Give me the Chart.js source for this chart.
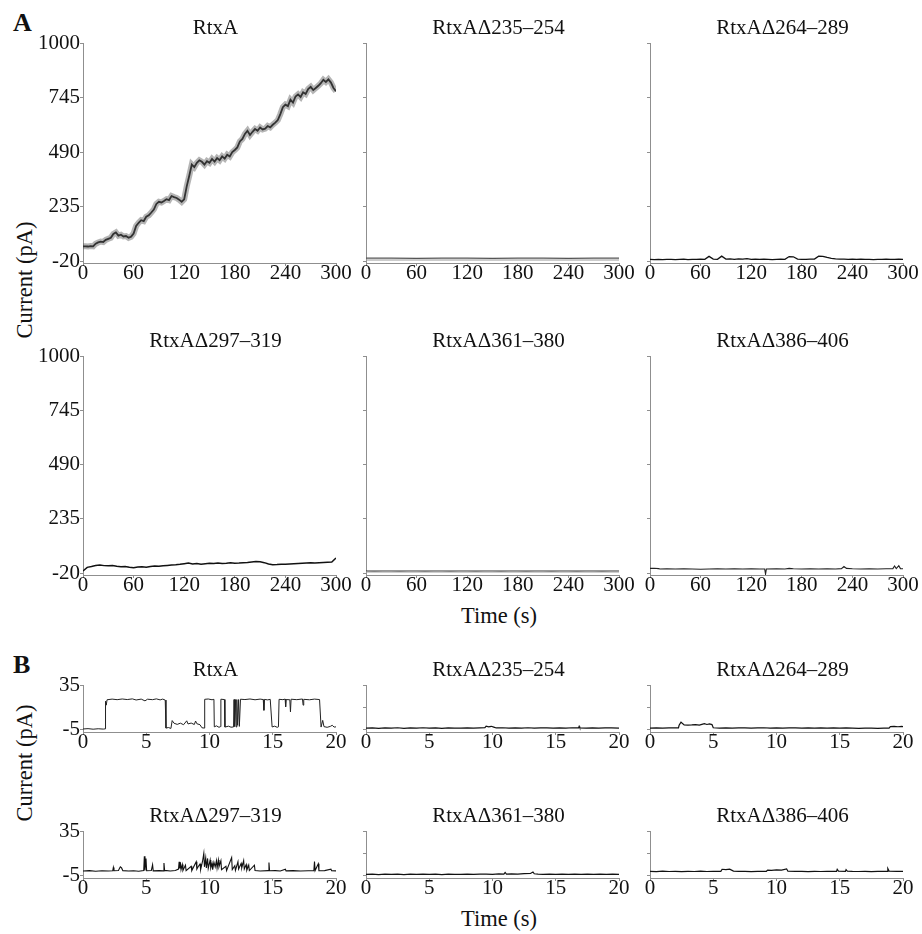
<!DOCTYPE html>
<html>
<head>
<meta charset="utf-8">
<title>RtxA deletion mutants: current traces</title>
<script src="https://cdn.jsdelivr.net/npm/chart.js@4.4.1/dist/chart.umd.min.js"></script>
<style>
  html, body { margin: 0; background: #fff; }
  #figure {
    position: relative; width: 922px; height: 934px; overflow: hidden;
    font-family: 'Liberation Serif', 'Times New Roman', serif; color: #111;
  }
  .panel { position: absolute; }
  .tag { position: absolute; font-size: 26px; font-weight: bold; line-height: 1; }
  .axis-title { position: absolute; font-size: 22.5px; line-height: 1; white-space: nowrap; transform: translateX(-50%); }
  .axis-title.vertical { transform: translate(-50%, -50%) rotate(-90deg); }
</style>
</head>
<body>
<div id="figure">
  <div class="tag" style="left:13px;top:10px">A</div>
  <div class="tag" style="left:13px;top:652px">B</div>
  <div class="axis-title vertical" style="left:25px;top:280px">Current (pA)</div>
  <div class="axis-title vertical" style="left:25px;top:763px">Current (pA)</div>
  <div class="axis-title" style="left:499px;top:605px">Time (s)</div>
  <div class="axis-title" style="left:499px;top:908px">Time (s)</div>
</div>
<script>
const SERIF = "'Liberation Serif', 'Times New Roman', serif";
const AXIS_GREY = '#8f8f8f';
const INK = '#111';

// axis ticks
const longTimeTicks = [0, 60, 120, 180, 240, 300];
const longCurrentTicks = [-20, 235, 490, 745, 1000];
const shortTimeTicks = [0, 5, 10, 15, 20];
const shortCurrentTicks = [-5, 15, 35];

const titles = ['RtxA', 'RtxA\u0394235\u2013254', 'RtxA\u0394264\u2013289',
                'RtxA\u0394297\u2013319', 'RtxA\u0394361\u2013380', 'RtxA\u0394386\u2013406'];

// --- A: 300 s recordings (pA) ---
// RtxA, one sample every 3 s
const rtxA300 = [
  50, 50, 49, 51, 50, 62, 68, 72, 70, 80,
  85, 90, 108, 115, 100, 104, 96, 98, 90, 95,
  110, 145, 160, 172, 168, 188, 195, 208, 222, 248,
  258, 255, 262, 270, 266, 285, 280, 276, 268, 258,
  270, 330, 380, 432, 420, 440, 452, 445, 432, 448,
  440, 458, 446, 462, 452, 470, 460, 478, 470, 490,
  500, 512, 540, 552, 575, 590, 570, 585, 598, 590,
  605, 596, 600, 612, 606, 618, 628, 640, 668, 700,
  712, 705, 735, 722, 750, 760, 748, 770, 762, 785,
  795, 780, 790, 800, 812, 828, 818, 830, 815, 790,
  775
];
// every 30 s
const rtxA235 = [-5, -5, -6, -5, -5, -6, -5, -5, -6, -5, -5];
const rtxA235Low = [-14, -14, -14, -14, -14, -14, -14, -14, -14, -14, -14];
// every 5 s
const rtxA264 = [
  -11, -12, -11, -12, -11, -11, -12, -11, -10, -12,
  -11, -11, -10, -11, 3, -10, -11, 4, -10, -9,
  -11, -9, -10, -8, -11, -10, -11, -10, -11, -12,
  -11, -10, -11, 2, 1, -10, -11, -11, -10, -10,
  4, 3, -2, -6, -9, -10, -10, -11, -10, -11,
  -10, -11, -11, -12, -11, -11, -10, -11, -11, -10,
  -11
];
// every 5 s
const rtxA297 = [
  -9, 8, 12, 17, 19, 16, 15, 17, 13, 11,
  12, 8, 6, 9, 11, 8, 12, 14, 13, 15,
  17, 19, 20, 22, 25, 28, 24, 26, 23, 25,
  27, 26, 28, 26, 27, 29, 27, 28, 30, 31,
  33, 35, 34, 30, 24, 20, 21, 23, 22, 24,
  25, 26, 27, 28, 29, 28, 30, 31, 32, 33,
  52
];
// every 10 s / 30 s
const rtxA361 = [-9, -10, -9, -9, -10, -9, -9, -10, -9, -9, -10, -9, -9, -10, -9, -9,
                 -10, -9, -9, -10, -9, -9, -10, -9, -9, -10, -9, -9, -10, -9, -9];
const rtxA361Low = [-14, -14, -14, -14, -14, -14, -14, -14, -14, -14, -14];
// [time s, current pA]
const rtxA386 = [
  [0, 3], [5, 4], [10, 2], [12, 0], [20, 1], [30, 0], [40, 1], [50, 0], [60, -1], [70, 0],
  [80, 1], [90, 0], [100, 1], [110, 0], [120, 1], [130, 0], [136, 0], [137, -24], [138, 0],
  [150, 1], [160, 0], [165, 3], [170, 1], [180, 0], [190, 1], [200, 0], [210, 1], [220, 0],
  [227, 2], [230, 12], [233, 3], [240, 1], [250, 0], [260, 1], [270, 0], [280, 1], [288, 2],
  [290, 14], [292, 2], [295, 16], [297, 2], [300, 1]
];

// --- B: 20 s recordings, [time s, current pA] ---
const rtxA20 = [
  [0, -4.3], [0.4, -4.0], [0.8, -4.5], [1.2, -4.1], [1.6, -4.4], [1.75, -4.2], [1.78, 20.5],
  [1.84, 17], [1.9, 21.8], [2.3, 22.4], [2.7, 21.9], [3.1, 22.5], [3.5, 22.0], [3.9, 22.6],
  [4.2, 21.6], [4.6, 22.4], [4.9, 20.8], [5.1, 22.3], [5.5, 21.9], [5.8, 22.6], [6.1, 21.7],
  [6.3, 22.4], [6.5, 21.5], [6.56, -3.5], [6.75, -3.0], [6.95, -3.8], [7.05, 3.2], [7.2, 0.8],
  [7.45, -0.2], [7.7, 0.9], [7.95, -0.5], [8.2, 3.0], [8.3, 0.2], [8.55, 1.0], [8.8, -0.3],
  [8.9, 2.8], [9.0, 0.4], [9.25, -0.5], [9.4, -3.2], [9.58, -3.5], [9.62, 22.2], [9.9, 22.5],
  [10.2, 21.8], [10.35, 22.2], [10.38, -2.4], [10.55, -1.5], [10.75, -2.8], [10.86, -2.2],
  [10.9, 22.3], [11.18, 22.0], [11.22, -2.6], [11.5, -1.8], [11.7, -2.7], [11.9, -2.5],
  [11.94, 22], [11.98, -2], [12.05, 22], [12.1, -2.5], [12.16, 22], [12.22, -1], [12.3, 22],
  [12.36, -2], [12.45, 22.3], [12.8, 22.0], [13.2, 22.5], [13.6, 21.8], [14.0, 22.4],
  [14.25, 22], [14.3, 12.4], [14.35, 22.1], [14.6, 21.7], [14.8, 22.2], [14.95, -2.5],
  [15.15, -1.8], [15.35, -2.8], [15.45, -2.4], [15.5, 22.2], [15.8, 21.9], [15.98, 22.4],
  [16.02, 15.5], [16.06, 22.0], [16.35, 21.8], [16.4, 11.0], [16.45, 22.3], [16.9, 21.9],
  [17.35, 22.5], [17.4, 17.0], [17.45, 22.2], [17.9, 21.8], [18.3, 22.4], [18.7, 22.0],
  [18.82, -2.6], [18.95, 3.4], [19.05, -2.2], [19.3, -2.8], [19.55, -2.0], [19.7, -1.0],
  [19.85, -2.6], [20, -2.4]
];
const rtxA235s = [
  [0, -3.6], [0.5, -3.3], [1, -3.7], [1.5, -3.4], [2, -3.6], [2.5, -3.2], [3, -3.7], [3.5, -3.4],
  [4, -3.5], [4.5, -3.2], [5, -3.6], [5.5, -3.4], [6, -3.7], [6.5, -3.3], [7, -3.5], [7.5, -3.6],
  [8, -3.3], [8.5, -3.6], [9, -3.4], [9.4, -3.2], [9.5, -1.8], [9.7, -2.4], [9.9, -1.9],
  [10.1, -2.6], [10.3, -3.4], [10.8, -3.2], [11.3, -3.6], [11.8, -3.3], [12.3, -3.5],
  [12.8, -3.2], [13.3, -3.6], [13.8, -3.4], [14.3, -3.3], [14.8, -3.6], [15.3, -3.4],
  [15.8, -3.5], [16.3, -3.2], [16.8, -3.4], [16.85, -2.0], [16.9, -3.3], [17.4, -3.5],
  [17.9, -3.3], [18.4, -3.6], [18.9, -3.4], [19.4, -3.3], [20, -3.5]
];
const rtxA264s = [
  [0, -3.6], [0.5, -3.3], [1, -3.6], [1.5, -3.4], [2, -3.2], [2.25, -3.4], [2.3, -1.0],
  [2.45, 1.8], [2.55, 0.8], [2.7, -0.6], [3.0, -0.9], [3.3, -0.7], [3.6, -0.4], [3.9, -0.8],
  [4.1, -0.2], [4.3, 0.4], [4.5, -0.3], [4.7, 0.2], [4.9, -0.4], [5.0, -3.2], [5.5, -3.5],
  [6, -3.3], [6.5, -3.6], [7, -3.4], [7.5, -3.3], [8, -3.6], [8.5, -3.4], [9, -3.2], [9.5, -3.5],
  [10, -3.3], [10.5, -3.6], [11, -3.4], [11.5, -3.3], [12, -3.5], [12.5, -3.4], [13, -3.6],
  [13.5, -3.3], [14, -3.5], [14.5, -3.4], [15, -3.6], [15.5, -3.4], [16, -3.5], [16.5, -3.7],
  [17, -3.5], [17.5, -3.6], [18, -3.8], [18.5, -3.6], [18.9, -3.5], [19.0, -2.2], [19.3, -1.9],
  [19.6, -2.3], [19.9, -2.0], [20, -2.2]
];
const rtxA297s = [
  [0, -0.8], [0.5, -0.4], [1, -0.9], [1.5, -0.5], [2, -0.8], [2.35, -0.6], [2.4, 2.4],
  [2.45, -0.5], [2.8, -0.3], [2.95, 3.0], [3.05, 2.0], [3.15, -0.4], [3.6, -0.8], [4.0, -0.5],
  [4.4, -0.9], [4.8, -0.4], [4.85, 12.5], [4.9, -0.3], [4.98, 10.5], [5.03, -0.5], [5.4, -0.3],
  [5.5, 4.8], [5.55, -0.6], [6.0, -0.4], [6.35, -0.6], [6.4, 6.3], [6.45, -0.2], [6.9, -0.7],
  [7.3, -0.3], [7.55, 1.0], [7.6, 7.5], [7.65, 1.5], [7.7, 7.0], [7.75, 0.5], [7.85, 5],
  [7.9, -0.3], [8.1, 4.5], [8.15, -0.5], [8.55, 3.5], [8.6, -0.4], [8.95, 7.5], [9.0, 1.0],
  [9.1, 3], [9.25, 5.5], [9.3, 0.5], [9.45, 8], [9.55, 15.0], [9.6, 3], [9.7, 11], [9.75, 2],
  [9.85, 10.5], [9.9, 1.5], [10.05, 9.0], [10.1, 2], [10.2, 6], [10.25, 0.5], [10.35, 7],
  [10.45, 3], [10.55, 8.5], [10.6, 2], [10.7, 9], [10.75, 3], [10.9, 8.5], [10.95, 0.5],
  [11.3, 3.5], [11.35, -0.4], [11.75, 11.2], [11.8, 0.5], [12.0, 4], [12.05, -0.2],
  [12.25, 7.5], [12.3, 1], [12.5, 6], [12.55, 2], [12.7, 8.5], [12.75, 1], [12.9, 5], [12.95, 0],
  [13.1, 4.5], [13.15, -0.4], [13.55, 4.5], [13.6, -0.3], [14.0, -0.7], [14.65, -0.4],
  [14.7, 6.8], [14.75, -0.5], [15.2, -0.4], [15.6, -0.8], [16.0, 0.8], [16.05, -0.6],
  [16.6, -0.4], [17.2, -0.8], [17.8, -0.5], [18.25, -0.4], [18.3, 7.7], [18.35, -0.3],
  [18.6, 5.7], [18.65, -0.5], [19.1, -0.4], [19.6, 0.9], [19.65, -0.5], [20, -0.6]
];
const rtxA361s = [
  [0, -3.8], [0.5, -3.5], [1, -3.9], [1.5, -3.6], [2, -3.8], [2.5, -3.5], [3, -3.9], [3.5, -3.6],
  [4, -3.7], [4.5, -3.5], [5, -3.8], [5.5, -3.6], [6, -3.9], [6.5, -3.5], [7, -3.7], [7.5, -3.8],
  [8, -3.5], [8.5, -3.8], [9, -3.6], [9.5, -3.5], [10, -3.7], [10.5, -3.4], [10.9, -3.6],
  [11.0, -2.0], [11.1, -3.5], [11.5, -3.3], [12, -3.5], [12.5, -3.1], [13.0, -3.0], [13.2, -1.6],
  [13.3, -3.2], [13.6, -3.6], [14, -3.7], [14.5, -3.5], [15, -3.8], [15.5, -3.6], [16, -3.7],
  [16.5, -3.5], [17, -3.8], [17.5, -3.6], [18, -3.7], [18.5, -3.5], [19, -3.8], [19.5, -3.6],
  [20, -3.7]
];
const rtxA386s = [
  [0, -1.0], [0.5, -1.3], [1, -0.9], [1.5, -1.2], [2, -1.0], [2.5, -1.3], [3, -1.1], [3.5, -1.2],
  [4, -0.9], [4.5, -1.2], [5, -1.0], [5.6, -1.1], [5.7, 0.8], [6.0, 0.5], [6.3, 0.9], [6.6, -0.8],
  [7, -1.1], [7.5, -1.0], [8, -1.3], [8.5, -1.0], [9.2, -1.0], [9.3, 0.0], [9.6, -0.2],
  [10.0, 0.3], [10.4, 0.1], [10.8, 1.2], [10.9, -0.9], [11.5, -1.1], [12, -1.0], [12.5, -1.3],
  [13, -1.0], [13.5, -1.2], [14, -1.0], [14.75, -1.0], [14.8, 0.8], [14.9, -0.8], [15.45, -1.0],
  [15.5, 0.4], [15.6, -0.9], [16, -1.1], [16.5, -1.2], [17, -1.0], [17.5, -1.3], [18, -1.0],
  [18.75, -1.0], [18.8, 1.5], [18.9, -0.8], [19.5, -1.1], [20, -1.0]
];

// regularly sampled values -> points
function sampled(values, step) {
  return values.map((v, i) => ({ x: i * step, y: v }));
}
function pairs(list) {
  return list.map(([x, y]) => ({ x, y }));
}

// panel title, drawn above the plot area
const panelTitle = {
  id: 'panelTitle',
  afterDraw(chart, args, opts) {
    const { ctx, chartArea } = chart;
    ctx.save();
    ctx.font = '21px ' + SERIF;
    ctx.fillStyle = INK;
    ctx.textAlign = 'center';
    ctx.textBaseline = 'alphabetic';
    ctx.fillText(opts.text, (chartArea.left + chartArea.right) / 2 + 6, chartArea.top - 9.5);
    ctx.restore();
  }
};

const PAD = { left: 62, right: 26, top: 40, bottom: 36 };
const COLS = [83, 366, 650];
const PLOT_W = 253;
const ROWS = [
  { top: 43, height: 220, kind: 'long' },
  { top: 356, height: 219, kind: 'long' },
  { top: 685, height: 47, kind: 'short' },
  { top: 831, height: 47, kind: 'short' }
];

const rtxA300Points = sampled(rtxA300, 3);
const panels = [
  // the whole-cell RtxA trace is noisy: a soft grey band under the dark line
  { row: 0, col: 0, title: titles[0], series: [
      { data: rtxA300Points, color: 'rgba(90,90,90,0.45)', width: 6 },
      { data: rtxA300Points, color: INK, width: 1.8 }] },
  { row: 0, col: 1, title: titles[1], series: [
      { data: sampled(rtxA235Low, 30), color: '#9a9a9a', width: 1.2 },
      { data: sampled(rtxA235, 30), color: '#555', width: 1.2 }] },
  { row: 0, col: 2, title: titles[2], series: [{ data: sampled(rtxA264, 5), color: INK, width: 1.3 }] },
  { row: 1, col: 0, title: titles[3], series: [{ data: sampled(rtxA297, 5), color: INK, width: 1.5 }] },
  { row: 1, col: 1, title: titles[4], series: [
      { data: sampled(rtxA361Low, 30), color: '#a0a0a0', width: 1.2 },
      { data: sampled(rtxA361, 10), color: '#333', width: 1.1 }] },
  { row: 1, col: 2, title: titles[5], series: [{ data: pairs(rtxA386), color: '#222', width: 1.1 }] },
  { row: 2, col: 0, title: titles[0], series: [{ data: pairs(rtxA20), color: '#222', width: 1 }] },
  { row: 2, col: 1, title: titles[1], series: [{ data: pairs(rtxA235s), color: INK, width: 1.2 }] },
  { row: 2, col: 2, title: titles[2], series: [{ data: pairs(rtxA264s), color: INK, width: 1.2 }] },
  { row: 3, col: 0, title: titles[3], series: [{ data: pairs(rtxA297s), color: INK, width: 1.1 }] },
  { row: 3, col: 1, title: titles[4], series: [{ data: pairs(rtxA361s), color: INK, width: 1.2 }] },
  { row: 3, col: 2, title: titles[5], series: [{ data: pairs(rtxA386s), color: INK, width: 1.2 }] }
];

const figure = document.getElementById('figure');
const tickFont = { family: SERIF, size: 21, lineHeight: 1 };

function makePanel(p) {
  const row = ROWS[p.row];
  const long = row.kind === 'long';
  const w = PLOT_W + PAD.left + PAD.right;
  const h = row.height + PAD.top + PAD.bottom;

  const holder = document.createElement('div');
  holder.className = 'panel';
  holder.style.left = (COLS[p.col] - PAD.left) + 'px';
  holder.style.top = (row.top - PAD.top) + 'px';
  const canvas = document.createElement('canvas');
  canvas.width = w;
  canvas.height = h;
  holder.appendChild(canvas);
  figure.appendChild(holder);

  const xTicks = long ? longTimeTicks : shortTimeTicks;
  const yTicks = long ? longCurrentTicks : shortCurrentTicks;

  new Chart(canvas, {
    type: 'line',
    data: {
      datasets: p.series.map(s => ({
        data: s.data, borderColor: s.color, borderWidth: s.width,
        pointRadius: 0, tension: 0, fill: false
      }))
    },
    options: {
      responsive: false,
      animation: false,
      events: [],
      parsing: false,
      layout: { padding: { left: 0, right: PAD.right, top: PAD.top, bottom: 0 } },
      plugins: {
        legend: { display: false },
        tooltip: { enabled: false },
        panelTitle: { text: p.title }
      },
      scales: {
        x: {
          type: 'linear', min: 0, max: xTicks[xTicks.length - 1],
          afterBuildTicks: s => { s.ticks = xTicks.map(v => ({ value: v })); },
          afterFit: s => { s.height = PAD.bottom; },
          grid: { drawOnChartArea: false, tickLength: 3, color: AXIS_GREY },
          border: { color: AXIS_GREY },
          ticks: { autoSkip: false, maxRotation: 0, padding: -3, color: INK, font: tickFont,
                   callback: v => String(v) }
        },
        y: {
          type: 'linear', min: long ? -28 : -7, max: yTicks[yTicks.length - 1],
          afterBuildTicks: s => { s.ticks = yTicks.map(v => ({ value: v })); },
          afterFit: s => { s.width = PAD.left; },
          grid: { drawOnChartArea: false, tickLength: 3, color: AXIS_GREY },
          border: { color: AXIS_GREY },
          ticks: { display: p.col === 0, padding: 0, color: INK, font: tickFont,
                   callback: v => String(v) }
        }
      }
    },
    plugins: [panelTitle]
  });
}

panels.forEach(makePanel);
</script>
</body>
</html>
